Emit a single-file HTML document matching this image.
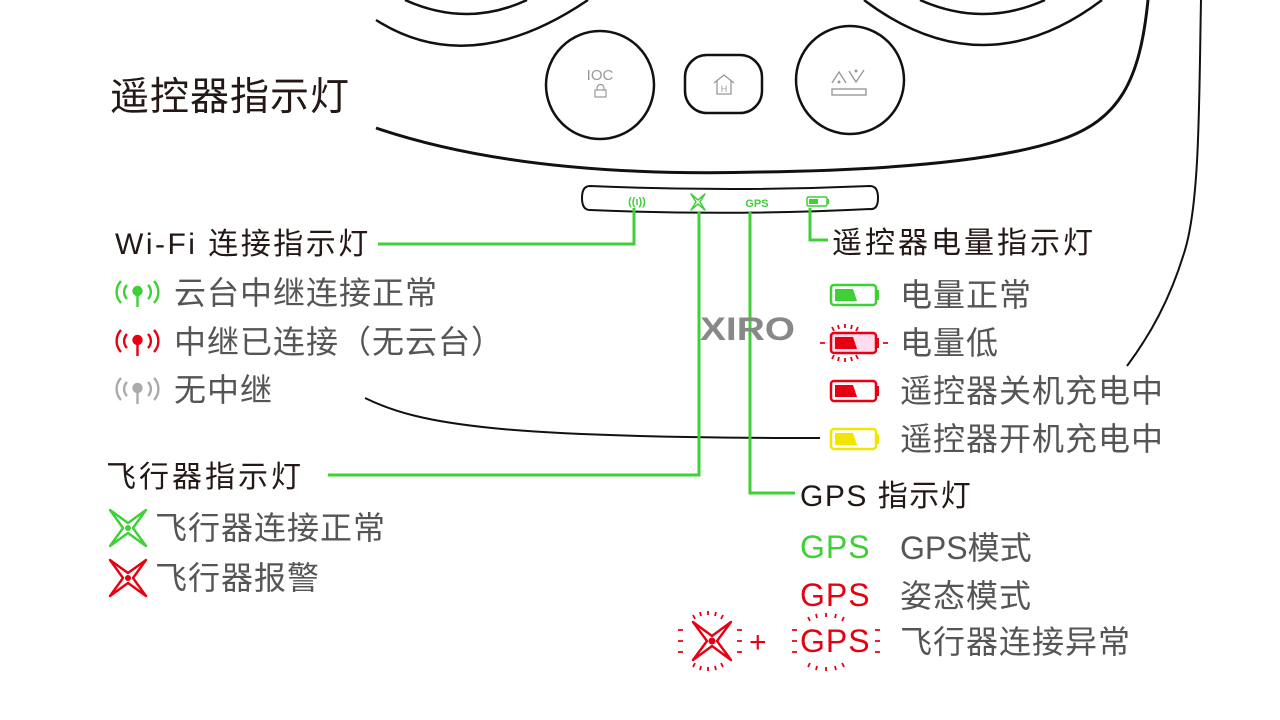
<!DOCTYPE html>
<html><head><meta charset="utf-8"><style>
body{margin:0;background:#fff}
svg{display:block}
.t{font-family:"Liberation Sans","Noto Sans CJK SC",sans-serif}
</style></head><body>
<svg width="1280" height="720" viewBox="0 0 1280 720" xmlns="http://www.w3.org/2000/svg" class="t">
<g fill="none" stroke="#111" stroke-width="2.5">
<path d="M405 0 Q467 28 527 0"/>
<path d="M376 20 Q470 80 588 0"/>
<path d="M920 0 Q983 28 1045 0"/>
<path d="M864 0 Q983 90 1102 0"/>
<path d="M376 128 C500 170 650 175 760 172 C900 170 1000 160 1060 140 C1120 120 1140 80 1148 0" stroke-width="3"/>
<path d="M1201 0 C1199 100 1200 200 1185 250 C1170 300 1150 335 1127 366" stroke-width="2"/>
<path d="M365 398 C420 425 500 438 820 438" stroke-width="2"/>
<circle cx="600" cy="85" r="54" stroke-width="2.5"/>
<rect x="685" y="55" width="77" height="58" rx="22" stroke-width="2.5"/>
<circle cx="850" cy="80" r="54" stroke-width="2.5"/>
<path d="M590 186 Q730 192 870 186 Q878 186 878 198 Q878 210 870 209 Q730 216 590 210 Q582 210 582 198 Q582 186 590 186Z" stroke-width="2"/>
</g>
<text x="600" y="80" font-size="15" fill="#999" text-anchor="middle">IOC</text>
<rect x="595" y="90" width="11" height="7" fill="none" stroke="#999" stroke-width="1.2"/>
<path d="M597 90v-2a3 3 0 0 1 7 0v2" fill="none" stroke="#999" stroke-width="1.2"/>
<path d="M714 83l10-8 10 8M717 81v13h14v-13" fill="none" stroke="#999" stroke-width="1.3"/>
<text x="724" y="92" font-size="9" fill="#999" text-anchor="middle">H</text>
<path d="M832 83l7-11 7 11M849 71l7 11 8-12" fill="none" stroke="#999" stroke-width="1.4"/>
<circle cx="839" cy="82" r="1.5" fill="#999"/><circle cx="856" cy="71" r="1.5" fill="#999"/>
<rect x="832" y="89" width="34" height="6" fill="none" stroke="#999" stroke-width="1.4"/>
<text x="637" y="205" font-size="11" fill="#3fcf36" text-anchor="middle" font-weight="bold">((ı))</text>
<path d="M691 194 L698 200 L705 194 L700 202 L705 210 L698 204 L691 210 L696 202Z" fill="none" stroke="#3fcf36" stroke-width="1.5" stroke-linejoin="round"/>
<text x="757" y="207" font-size="11" fill="#3fcf36" text-anchor="middle" font-weight="bold">GPS</text>
<rect x="807" y="197" width="20" height="9" rx="1.5" fill="none" stroke="#3fcf36" stroke-width="1.5"/><rect x="809" y="199" width="9" height="5" fill="#3fcf36"/><rect x="827" y="199" width="2" height="5" fill="#3fcf36"/>
<g fill="none" stroke="#3fcf36" stroke-width="3">
<path d="M634 208V244H378"/>
<path d="M699 212V475H328"/>
<path d="M750 212V493H795"/>
<path d="M810 208V240H828"/>
</g>
<text x="700" y="340" font-size="32" font-weight="bold" fill="#888" textLength="95" lengthAdjust="spacingAndGlyphs">XIRO</text>
<g fill="#231815">
<text x="110" y="110" font-size="39" letter-spacing="1">遥控器指示灯</text>
<text x="115" y="254" font-size="30" letter-spacing="2.5">Wi-Fi 连接指示灯</text>
<text x="106" y="487" font-size="30" letter-spacing="3">飞行器指示灯</text>
<text x="832" y="253" font-size="30" letter-spacing="3">遥控器电量指示灯</text>
<text x="800" y="506" font-size="30" letter-spacing="1.5">GPS 指示灯</text>
</g>
<g fill="#555" font-size="32" letter-spacing="1">
<text x="174" y="304">云台中继连接正常</text>
<text x="174" y="353">中继已连接（无云台）</text>
<text x="174" y="401">无中继</text>
<text x="155" y="539">飞行器连接正常</text>
<text x="155" y="589">飞行器报警</text>
<text x="900" y="306">电量正常</text>
<text x="900" y="354">电量低</text>
<text x="900" y="402">遥控器关机充电中</text>
<text x="900" y="450">遥控器开机充电中</text>
<text x="900" y="559" letter-spacing="0">GPS模式</text>
<text x="900" y="607">姿态模式</text>
<text x="900" y="653">飞行器连接异常</text>
</g>
<g fill="none" stroke-width="2.4">
<g stroke="#3fcf36"><path d="M121 281a16 16 0 0 0 0 22M127 285a10 10 0 0 0 0 14M154 281a16 16 0 0 1 0 22M148 285a10 10 0 0 1 0 14M137.5 292v15"/><circle cx="137.5" cy="291" r="4" fill="#3fcf36"/></g>
<g stroke="#e60012" transform="translate(0,49)"><path d="M121 281a16 16 0 0 0 0 22M127 285a10 10 0 0 0 0 14M154 281a16 16 0 0 1 0 22M148 285a10 10 0 0 1 0 14M137.5 292v15"/><circle cx="137.5" cy="291" r="4" fill="#e60012"/></g>
<g stroke="#aaa" transform="translate(0,97)"><path d="M121 281a16 16 0 0 0 0 22M127 285a10 10 0 0 0 0 14M154 281a16 16 0 0 1 0 22M148 285a10 10 0 0 1 0 14M137.5 292v15"/><circle cx="137.5" cy="291" r="4" fill="#aaa"/></g>
</g>
<g fill="none" stroke-width="2.4" stroke-linejoin="round">
<path d="M110 510 L128 523 L146 510 L133 528 L146 546 L128 533 L110 546 L123 528Z" stroke="#3fcf36"/>
<circle cx="128" cy="528" r="3" fill="#3fcf36"/>
<path d="M110 560 L128 573 L146 560 L133 578 L146 596 L128 583 L110 596 L123 578Z" stroke="#e60012"/>
<circle cx="128" cy="578" r="3" fill="#e60012"/>
<path d="M693 622 L712 636 L731 622 L717 641 L731 660 L712 646 L693 660 L707 641Z" stroke="#e60012"/>
<circle cx="712" cy="641" r="3.5" fill="#e60012"/>
</g>
<g stroke-width="2.5">
<rect x="831" y="285" width="45" height="20" rx="3" fill="none" stroke="#3fcf36"/><path d="M835 289h18l4 12h-22z" fill="#3fcf36"/><rect x="876" y="290" width="3" height="10" fill="#3fcf36"/>
<rect x="831" y="333" width="45" height="20" rx="3" fill="#fde" stroke="#e60012"/><path d="M835 337h18l4 12h-22z" fill="#e60012"/><rect x="876" y="338" width="3" height="10" fill="#e60012"/>
<rect x="831" y="381" width="45" height="20" rx="3" fill="none" stroke="#e60012"/><path d="M835 385h18l4 12h-22z" fill="#e60012"/><rect x="876" y="386" width="3" height="10" fill="#e60012"/>
<rect x="831" y="429" width="45" height="20" rx="3" fill="none" stroke="#f2e600"/><path d="M835 433h18l4 12h-22z" fill="#f2e600"/><rect x="876" y="434" width="3" height="10" fill="#f2e600"/>
</g>
<g stroke="#e60012" stroke-width="1.8">
<path d="M832 327l2 4M838 325l1 4M845 324v4M852 325l-1 4M858 327l-2 4M832 359l2-4M838 361l1-4M845 362v-4M852 361l-1-4M858 359l-2-4M820 343h5M883 343h5"/>
<path d="M693 615l2 4M700 612l1 4M708 611v4M716 612l-1 4M723 615l-2 4M693 667l2-4M700 670l1-4M708 671v-4M716 670l-1-4M723 667l-2-4M678 630h5M678 641h5M678 652h5M737 630h5M737 641h5M737 652h5"/>
<path d="M808 617l2 4M816 614l1 4M826 613v4M836 614l-1 4M844 617l-2 4M808 667l2-4M816 670l1-4M826 671v-4M836 670l-1-4M844 667l-2-4M792 630h5M792 641h5M792 652h5M875 630h5M875 641h5M875 652h5"/>
</g>
<text x="749" y="652" font-size="30" fill="#e60012">+</text>
<text x="800" y="558" font-size="32" fill="#3fcf36" letter-spacing="1">GPS</text>
<text x="800" y="606" font-size="32" fill="#e60012" letter-spacing="1">GPS</text>
<text x="800" y="652" font-size="32" fill="#e60012" letter-spacing="1">GPS</text>
</svg>
</body></html>
